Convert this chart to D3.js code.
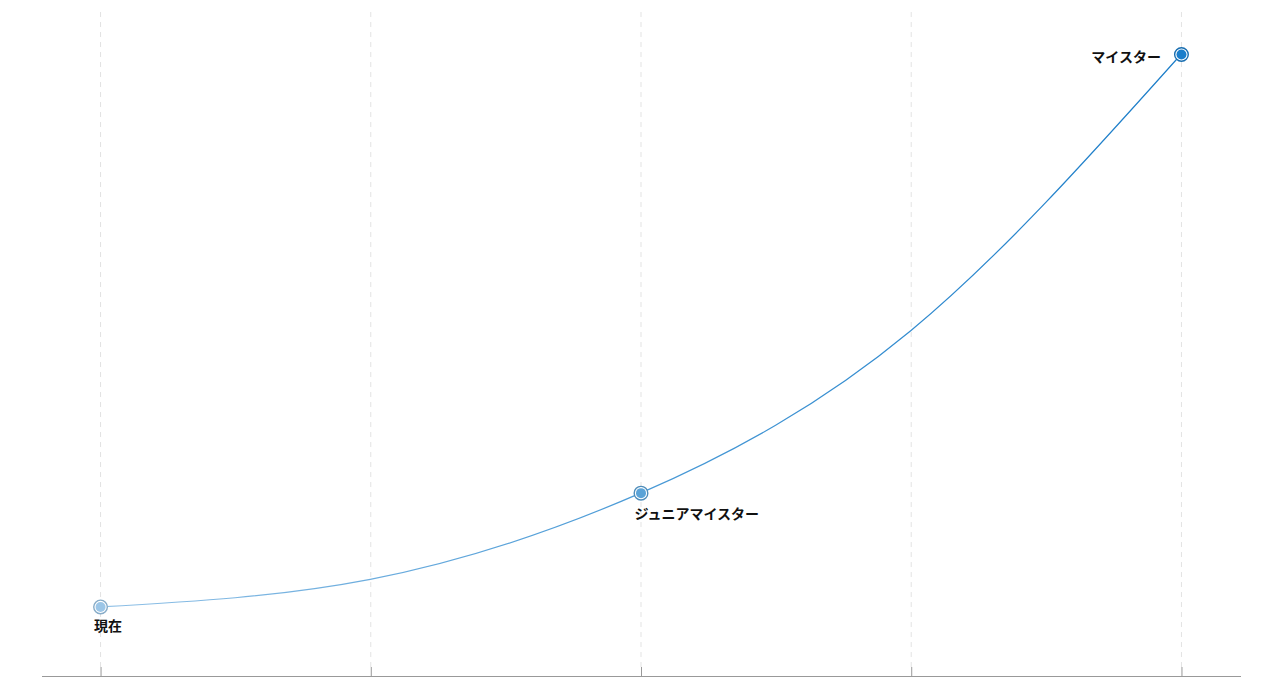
<!DOCTYPE html>
<html><head><meta charset="utf-8">
<script src="https://cdn.jsdelivr.net/npm/d3@7"></script>
<style>
html,body{margin:0;padding:0;background:#fff;}
svg{display:block;}
text{font-family:"Noto Sans CJK JP","Noto Sans",sans-serif;}
</style></head>
<body>
<svg id="chart" width="1280" height="689"></svg>
<script>
// Data
const stages = [0, 1, 2, 3, 4];
const levels = [0, 5, 20.6, 50, 100];
const labels = ["現在", null, "ジュニアマイスター", null, "マイスター"];
const markerColors = ["#9cc6e7", null, "#5ba3d7", null, "#1b7ecb"];
const xTicks = [0, 1, 2, 3, 4];

const svg = d3.select("#chart");
const axisY = 676;

const x = d3.scaleLinear().domain([-0.2185, 4.2185]).range([41, 1240]);
const y = d3.scaleLinear().domain([-12.5, 100]).range([axisY, 54.5]);

// gridlines
svg.append("g").selectAll("line").data(xTicks).join("line")
  .attr("x1", d => x(d) + 0.5).attr("x2", d => x(d) + 0.5)
  .attr("y1", 12).attr("y2", axisY - 9)
  .attr("stroke", "#e3e3e3").attr("stroke-width", 1)
  .attr("stroke-dasharray", "5,5");

// axis
const axis = d3.axisTop(x).tickValues(xTicks).tickSize(9).tickSizeOuter(0).tickFormat("");
const ag = svg.append("g").attr("transform", `translate(0.5,${axisY})`).call(axis);
ag.select(".domain").attr("stroke", "#999");
ag.selectAll(".tick line").attr("stroke", "#999");

// gradient
const defs = svg.append("defs");
const grad = defs.append("linearGradient").attr("id", "lineGrad")
  .attr("gradientUnits", "userSpaceOnUse")
  .attr("x1", x(0)).attr("x2", x(4)).attr("y1", 0).attr("y2", 0);
grad.append("stop").attr("offset", "0%").attr("stop-color", "#8fc0e6");
grad.append("stop").attr("offset", "50%").attr("stop-color", "#4a9ad6");
grad.append("stop").attr("offset", "100%").attr("stop-color", "#1a7cc8");

const pts = stages.map((s, i) => ({s, v: levels[i], label: labels[i], color: markerColors[i]}));

const line = d3.line().x(d => x(d.s)).y(d => y(d.v)).curve(d3.curveNatural);
svg.append("path").datum(pts).attr("d", line)
  .attr("fill", "none").attr("stroke", "url(#lineGrad)").attr("stroke-width", 1.2);

const ms = pts.filter(d => d.label);
const mg = svg.append("g").selectAll("g").data(ms).join("g")
  .attr("transform", d => `translate(${x(d.s) + 0.5},${y(d.v)})`);
mg.append("circle").attr("r", 6.8).attr("fill", "#fff")
  .attr("stroke", d => d3.color(d.color).darker(0.4)).attr("stroke-width", 1.4);
mg.append("circle").attr("r", 5).attr("fill", d => d.color);

// labels
svg.append("g").selectAll("text").data(ms).join("text")
  .attr("x", (d, i) => i === ms.length - 1 ? x(d.s) - 20 : x(d.s) - 6)
  .attr("y", (d, i) => i === ms.length - 1 ? y(d.v) + 7 : (i === 0 ? y(d.v) + 24 : y(d.v) + 26))
  .attr("text-anchor", (d, i) => i === ms.length - 1 ? "end" : "start")
  .attr("font-size", 14).attr("font-weight", "bold").attr("fill", "#111")
  .text(d => d.label);
</script>
</body></html>
